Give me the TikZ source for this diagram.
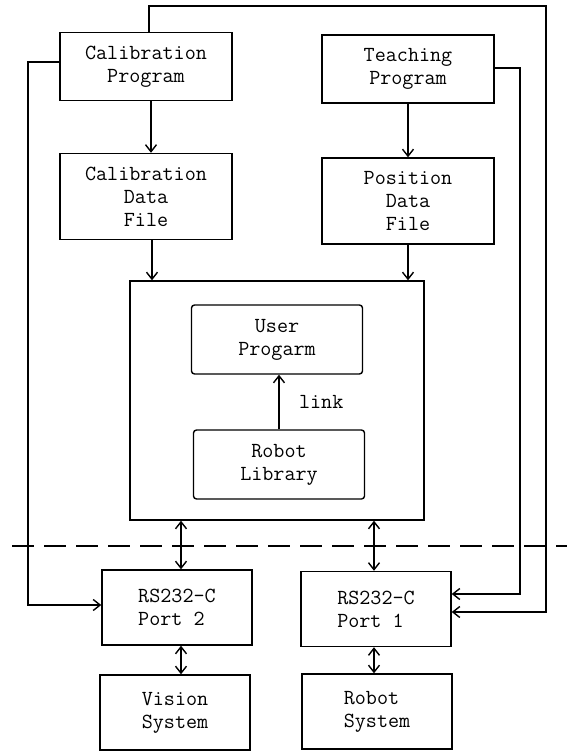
\documentclass[tikz,border=0pt]{standalone}
\usepackage{fontspec}
\usetikzlibrary{arrows.meta}
\tikzstyle{progbox} = [rectangle,minimum width=172pt,minimum height=68pt,text centered,align=center,draw=black,line width=1.4pt]
\tikzstyle{filebox} = [rectangle,minimum width=172pt,minimum height=86pt,text centered,align=center,draw=black,line width=1.4pt]
\tikzstyle{libbox} = [rectangle,rounded corners=3pt,minimum width=171pt,minimum height=69pt,text centered,align=center,draw=black,line width=1.4pt]
\tikzstyle{portbox} = [rectangle,minimum width=150pt,minimum height=75pt,align=left,draw=black,line width=1.4pt]
\tikzstyle{outerbox} = [rectangle,minimum width=294pt,minimum height=239pt,draw=black,line width=1.4pt]
\tikzstyle{arrow} = [line width=1.4pt,->,>={Straight Barb[length=7pt,width=11pt]}]
\tikzstyle{darrow} = [line width=1.4pt,<->,>={Straight Barb[length=7pt,width=11pt]}]
\tikzstyle{sepline} = [line width=1.2pt,dash pattern=on 22pt off 10pt]

\begin{document}
\begin{tikzpicture}[x=1pt,y=1pt,node distance=130pt,font=\fontsize{21.5}{23}\selectfont\ttfamily]
\useasboundingbox (0,0) rectangle (567,-754);

\node (calprog) [progbox] at (146,-66.5) {Calibration\\Program};
\node (teachprog) [progbox, right of=calprog, xshift=132pt, yshift=-2.5pt] {Teaching\\Program};
\node (caldata) [filebox, below of=calprog] {Calibration\\Data\\File};
\node (posdata) [filebox, below of=teachprog, yshift=-2pt] {Position\\Data\\File};
\node (main) [outerbox] at (277,-400.5) {};
\node (userprog) [libbox] at (277,-339.5) {User\\Progarm};
\node (robotlib) [libbox, below of=userprog, yshift=5pt, xshift=2pt] {Robot\\Library};
\node (port2) [portbox] at (177,-607.5) {RS232-C\\Port 2};
\node (vision) [portbox, align=center, below of=port2, yshift=25pt, xshift=-2pt] {Vision\\System};
\node (port1) [portbox, right of=port2, xshift=69pt, yshift=-1.5pt] {RS232-C\\Port 1};
\node (robotsys) [portbox, below of=port1, yshift=27.5pt, xshift=1pt] {Robot\\System};

\coordinate (topR) at (546,-6);
\coordinate (teachR) at (520,-300);
\coordinate (calL) at (28,-300);
\coordinate (sepL) at (12,-546);
\coordinate (sepR) at (567,-546);

\draw [arrow] ([xshift=5pt]calprog.south) -- ([xshift=5pt]caldata.north);
\draw [arrow] (teachprog) -- (posdata);
\draw [arrow] ([xshift=6pt]caldata.south) -- ([xshift=6pt]caldata.south |- main.north);
\draw [arrow] (posdata.south) -- (posdata.south |- main.north);
\draw [arrow] (robotlib.north) -- (robotlib.north |- userprog.south) node[midway,right=16pt]{link};
\draw [darrow] ([xshift=4pt]port2.north |- main.south) -- ([xshift=4pt]port2.north);
\draw [darrow] ([xshift=-2pt]port1.north |- main.south) -- ([xshift=-2pt]port1.north);
\draw [darrow] ([xshift=4pt]port2.south) -- ([xshift=4pt]port2.south |- vision.north);
\draw [darrow] ([xshift=-2pt]port1.south) -- ([xshift=-2pt]port1.south |- robotsys.north);
\draw [arrow] ([xshift=3pt]calprog.north) |- (topR) |- ([yshift=-3pt]port1.east);
\draw [arrow] ([yshift=1pt]teachprog.east) -| (teachR) |- ([yshift=15pt]port1.east);
\draw [arrow] ([yshift=4.5pt]calprog.west) -| (calL) |- ([yshift=2.5pt]port2.west);
\draw [sepline] (sepL) -- (sepR);

\end{tikzpicture}
\end{document}
